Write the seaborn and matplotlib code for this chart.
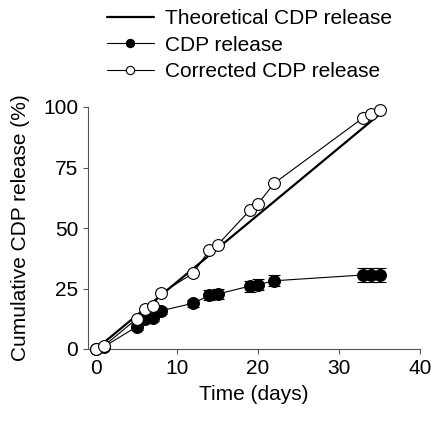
import matplotlib
matplotlib.use("Agg")
import matplotlib.pyplot as plt
import seaborn as sns

# Release data (days, % cumulative)
days = [0, 1, 5, 6, 7, 8, 12, 14, 15, 19, 20, 22, 33, 34, 35]
cdp_release = [0, 1.0, 9.2, 12.2, 13.0, 15.8, 18.9, 22.2, 22.7, 26.0, 26.6, 28.2, 30.6, 30.6, 30.6]
cdp_err = [0, 0.3, 1.3, 1.3, 1.3, 1.3, 1.5, 2.0, 2.0, 2.3, 2.3, 2.3, 2.8, 2.8, 2.8]
corrected_release = [0, 1.4, 12.4, 16.7, 17.8, 23.0, 31.3, 41.0, 43.0, 57.4, 60.0, 68.5, 95.6, 97.0, 98.6]
theory_days = [0, 35]
theory_release = [0, 97]

sns.set_theme(style="ticks")
plt.rcParams["font.family"] = ["Liberation Sans", "DejaVu Sans"]
plt.rcParams["text.color"] = "black"
plt.rcParams["axes.labelcolor"] = "black"
FS = 15

fig = plt.figure(figsize=(4.32, 4.21), dpi=100)
ax = fig.add_axes([88 / 432, 1 - 349 / 421, 332 / 432, 242 / 421])

sns.lineplot(x=theory_days, y=theory_release, ax=ax, color="black",
             linewidth=1.6, label="Theoretical CDP release", zorder=2)
ax.errorbar(days, cdp_release, yerr=cdp_err, fmt="none", ecolor="black",
            elinewidth=0.8, capsize=4, capthick=0.8, zorder=3)
sns.lineplot(x=days, y=cdp_release, ax=ax, color="black", linewidth=0.8,
             marker="o", markersize=8.5, markerfacecolor="black",
             markeredgecolor="black", markeredgewidth=0.8,
             label="CDP release", zorder=4, clip_on=False)
sns.lineplot(x=days, y=corrected_release, ax=ax, color="black", linewidth=0.8,
             marker="o", markersize=8.5, markerfacecolor="white",
             markeredgecolor="black", markeredgewidth=0.8,
             label="Corrected CDP release", zorder=5, clip_on=False)

ax.set_xlim(-1, 40)
ax.set_ylim(0, 100)
ax.set_xticks([0, 10, 20, 30, 40])
ax.set_yticks([0, 25, 50, 75, 100])
ax.tick_params(labelsize=FS, length=3.5, width=0.8, color="#555555",
               labelcolor="black", pad=3.5)
for side in ("left", "bottom"):
    ax.spines[side].set_linewidth(0.8)
    ax.spines[side].set_color("#555555")
sns.despine(ax=ax)

ax.set_xlabel("Time (days)", fontsize=FS, labelpad=5)
ax.set_ylabel("Cumulative CDP release (%)", fontsize=FS)
ax.yaxis.set_label_coords(-0.175, 0.5)

ax.get_legend().remove()
handles, labels = ax.get_legend_handles_labels()
fig.legend(handles, labels, loc="upper left", bbox_to_anchor=(107 / 432, 0.978),
           frameon=False, fontsize=FS, handlelength=2.25, handletextpad=0.55,
           labelspacing=0.36, borderpad=0, borderaxespad=0, markerscale=0.7,
           labelcolor="black")

fig.savefig("out.png", dpi=100)
